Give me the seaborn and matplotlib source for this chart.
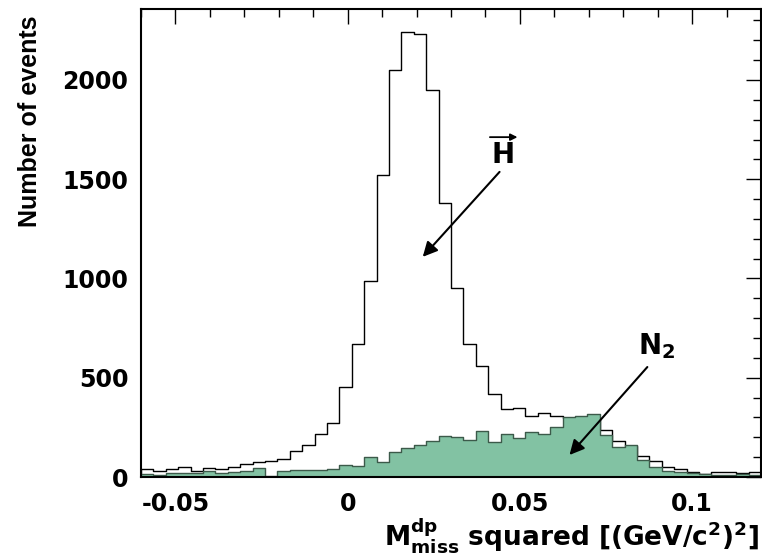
import numpy as np
import pandas as pd
import matplotlib
matplotlib.use("Agg")
import matplotlib.pyplot as plt
import seaborn as sns
from matplotlib.ticker import FixedLocator, FixedFormatter, MultipleLocator

# ---- data ----
x_low, x_high, n_bins = -0.06, 0.12, 50
h_counts = [39, 32, 39, 49, 32, 44, 39, 52, 64, 77,
            82, 91, 131, 161, 219, 270, 451, 669, 988, 1520,
            2051, 2244, 2234, 1947, 1381, 951, 669, 561, 418, 341,
            349, 309, 323, 309, 298, 298, 290, 237, 181, 158,
            104, 79, 51, 40, 27, 17, 27, 24, 19, 27]
n2_counts = [15, 8, 22, 18, 22, 30, 22, 27, 32, 44,
             5, 30, 35, 35, 35, 38, 62, 57, 102, 77,
             128, 148, 161, 183, 208, 200, 185, 233, 175, 219,
             199, 225, 217, 252, 301, 305, 315, 212, 153, 160,
             88, 50, 32, 23, 19, 15, 10, 10, 14, 10]
x_tick_values = [-0.05, 0.0, 0.05, 0.1]
x_tick_labels = ["-0.05", "0", "0.05", "0.1"]
y_tick_values = [0, 500, 1000, 1500, 2000]
y_tick_labels = ["0", "500", "1000", "1500", "2000"]

edges = np.linspace(x_low, x_high, n_bins + 1)
centers = 0.5 * (edges[:-1] + edges[1:])
df = pd.DataFrame({"x": centers, "H": h_counts, "N2": n2_counts})

sns.set_theme(style="white")
plt.rcParams["font.family"] = ["DejaVu Sans"]
plt.rcParams["font.weight"] = "bold"
plt.rcParams["mathtext.fontset"] = "dejavusans"
plt.rcParams["text.color"] = "black"
plt.rcParams["axes.labelcolor"] = "black"
plt.rcParams["xtick.color"] = "black"
plt.rcParams["ytick.color"] = "black"

fig = plt.figure(figsize=(7.62, 5.55), dpi=100)
ax = fig.add_axes([0.185, 0.1405, 0.8137, 0.8424])

sns.histplot(data=df, x="x", weights="H", bins=n_bins, binrange=(x_low, x_high),
             element="step", fill=True,
             facecolor="white", edgecolor="black", linewidth=1.0, ax=ax)
sns.histplot(data=df, x="x", weights="N2", bins=n_bins, binrange=(x_low, x_high),
             element="step", fill=True,
             facecolor="#82c2a3", edgecolor="#3c5a4a", linewidth=1.0, ax=ax)

ax.set_xlim(x_low, x_high)
ax.set_ylim(0, 2355)

ax.xaxis.set_major_locator(FixedLocator(x_tick_values))
ax.xaxis.set_major_formatter(FixedFormatter(x_tick_labels))
ax.xaxis.set_minor_locator(MultipleLocator(0.01))
ax.yaxis.set_major_locator(FixedLocator(y_tick_values))
ax.yaxis.set_major_formatter(FixedFormatter(y_tick_labels))
ax.yaxis.set_minor_locator(MultipleLocator(100))

ax.tick_params(which="both", direction="in", top=True, right=True,
               colors="black", labelcolor="black", width=1.0, labelsize=17)
ax.tick_params(which="major", length=11)
ax.tick_params(which="minor", length=5.5)
ax.tick_params(axis="x", which="major", pad=11)
ax.tick_params(axis="y", which="major", pad=9)
for lab in ax.get_xticklabels() + ax.get_yticklabels():
    lab.set_fontweight("bold")

for sp in ax.spines.values():
    sp.set_color("black")
    sp.set_linewidth(1.5)
    sp.set_zorder(5)

ax.set_xlabel(r"$\mathbf{M}^{\mathbf{dp}}_{\mathbf{miss}}$ squared [(GeV/c$^{\mathbf{2}}$)$^{\mathbf{2}}$]",
              fontsize=19, fontweight="bold", loc="right", color="black")
ax.xaxis.set_label_coords(0.996, -0.084)
ax.set_ylabel("Number of events", fontsize=18, fontweight="bold", loc="top", color="black",
              family=["Liberation Sans Narrow", "Liberation Sans", "DejaVu Sans"])
ax.yaxis.set_label_coords(-0.159, 0.988)

# annotations
ax.text(0.045, 1623, "H", fontsize=20, fontweight="bold", ha="center", va="center")
ax.annotate("", xy=(0.0493, 1712), xytext=(0.0413, 1712),
            arrowprops=dict(arrowstyle="-|>", color="black", lw=1.3, mutation_scale=10,
                            shrinkA=0, shrinkB=0))
ax.annotate("", xy=(0.0218, 1109), xytext=(0.0441, 1537),
            arrowprops=dict(arrowstyle="-|>", color="black", lw=1.5,
                            mutation_scale=22, shrinkA=0, shrinkB=0))
ax.text(0.0843, 585, r"$\mathbf{N_2}$", fontsize=20, ha="left", va="bottom")
ax.annotate("", xy=(0.0644, 111), xytext=(0.0870, 554),
            arrowprops=dict(arrowstyle="-|>", color="black", lw=1.5,
                            mutation_scale=22, shrinkA=0, shrinkB=0))

fig.savefig("out.png", dpi=100)
